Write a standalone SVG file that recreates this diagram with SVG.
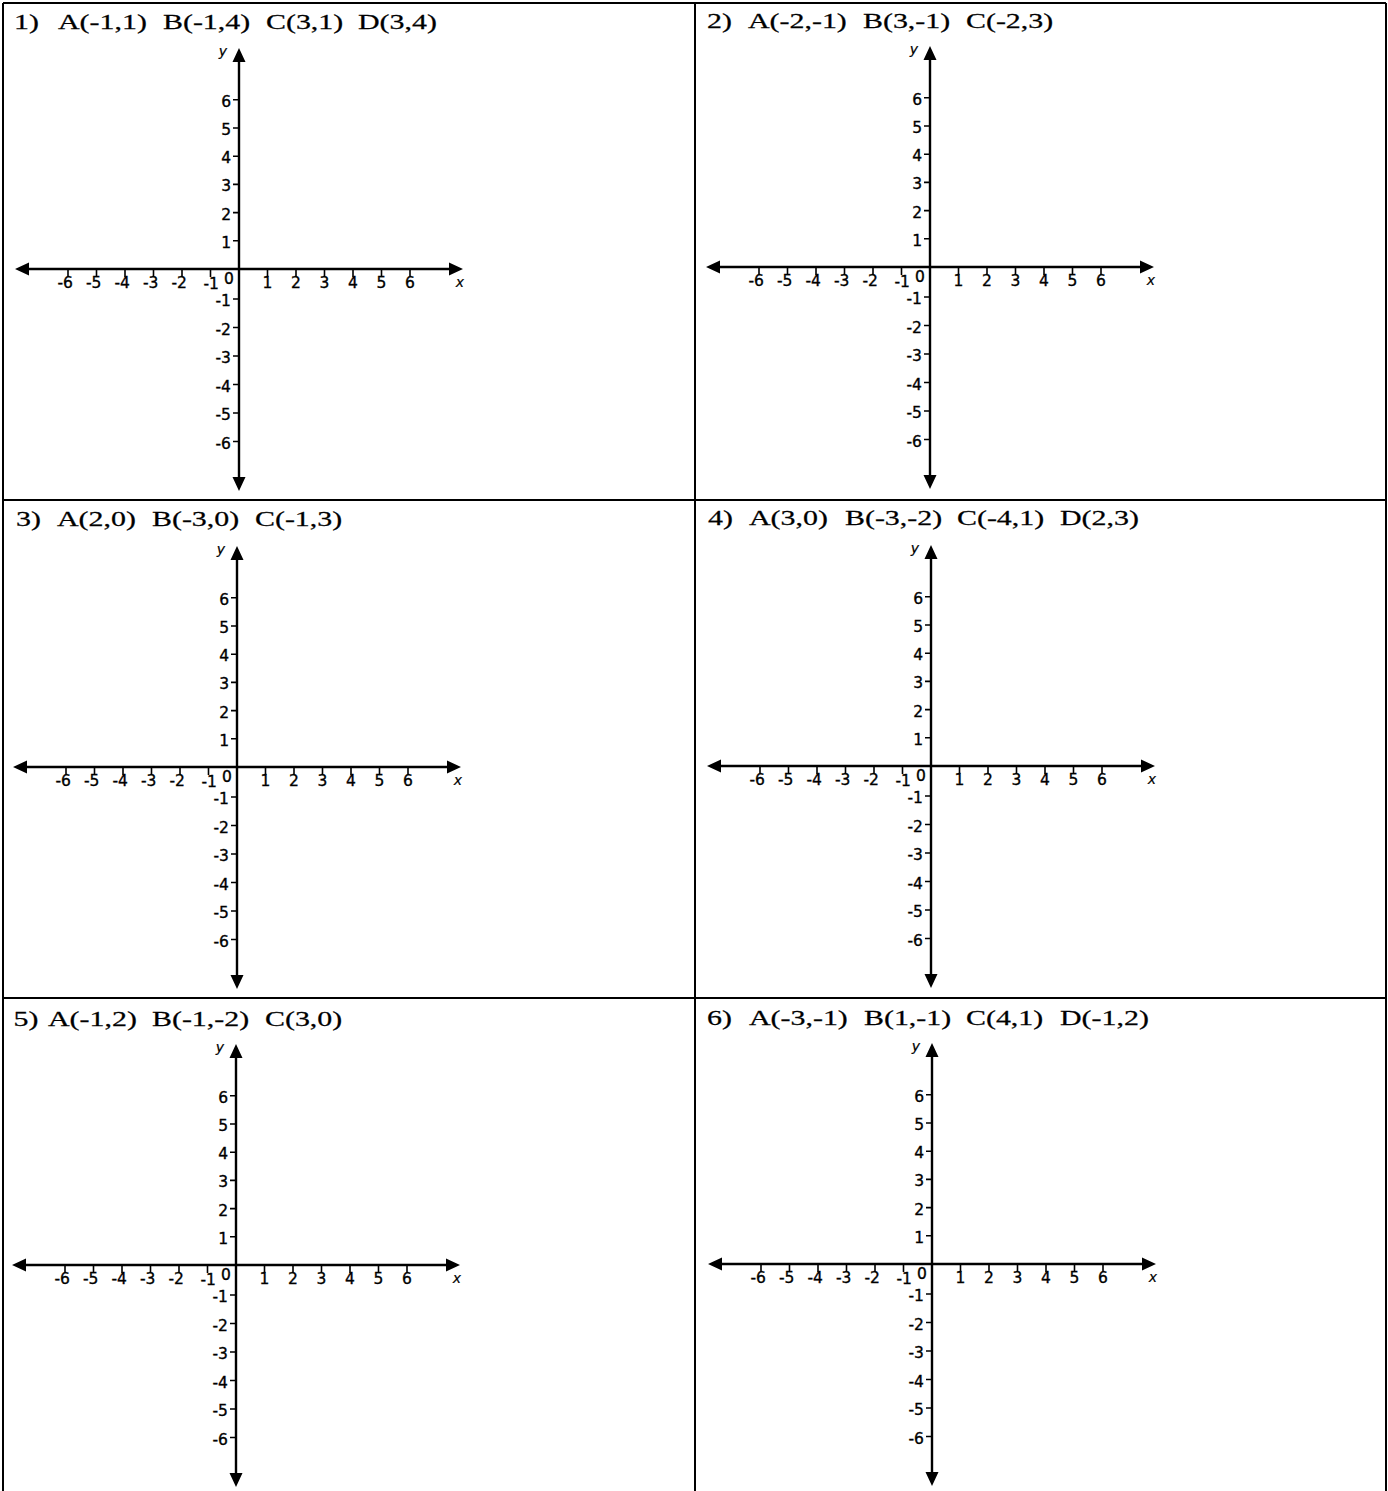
<svg xmlns="http://www.w3.org/2000/svg" width="1388" height="1491" viewBox="0 0 1388 1491">
<style>
.bg{fill:#fff}
.grid{stroke:#000;stroke-width:2;fill:none}
.ax{stroke:#000;stroke-width:2.4;fill:none}
.tk{stroke:#000;stroke-width:1.6;fill:none}
.ah{fill:#000}
.lb{font-family:"DejaVu Sans",Verdana,sans-serif;font-size:15.5px;fill:#000;stroke:#000;stroke-width:0.35}
.m{text-anchor:middle}
.e{text-anchor:end}
.it{font-style:italic;font-size:14px;stroke-width:0.2}
.ttl{font-family:"Liberation Serif","Times New Roman",serif;font-size:22px;fill:#000;stroke:#000;stroke-width:0.25}
</style>
<rect class="bg" x="0" y="0" width="1388" height="1491"/>
<g id="table">
<path class="grid" d="M3 3H1386M3 500H1386M3 998H1386M3 3V1491M695 3V1491M1386 3V1491"/>
</g>
<g id="titles">
<text class="ttl" transform="translate(0,28.5) scale(1.36,1)"><tspan x="10.3" y="0">1)</tspan> <tspan x="42.65" y="0">A(-1,1)</tspan> <tspan x="119.85" y="0">B(-1,4)</tspan> <tspan x="195.59" y="0">C(3,1)</tspan> <tspan x="263.24" y="0">D(3,4)</tspan></text>
<text class="ttl" transform="translate(0,28) scale(1.36,1)"><tspan x="519.85" y="0">2)</tspan> <tspan x="550" y="0">A(-2,-1)</tspan> <tspan x="634.56" y="0">B(3,-1)</tspan> <tspan x="710.29" y="0">C(-2,3)</tspan></text>
<text class="ttl" transform="translate(0,526) scale(1.36,1)"><tspan x="11.76" y="0">3)</tspan> <tspan x="41.91" y="0">A(2,0)</tspan> <tspan x="111.76" y="0">B(-3,0)</tspan> <tspan x="187.5" y="0">C(-1,3)</tspan></text>
<text class="ttl" transform="translate(0,525) scale(1.36,1)"><tspan x="520.6" y="0">4)</tspan> <tspan x="550.74" y="0">A(3,0)</tspan> <tspan x="621.32" y="0">B(-3,-2)</tspan> <tspan x="703.68" y="0">C(-4,1)</tspan> <tspan x="779.41" y="0">D(2,3)</tspan></text>
<text class="ttl" transform="translate(0,1026) scale(1.36,1)"><tspan x="9.93" y="0">5)</tspan> <tspan x="35.29" y="0">A(-1,2)</tspan> <tspan x="111.76" y="0">B(-1,-2)</tspan> <tspan x="194.85" y="0">C(3,0)</tspan></text>
<text class="ttl" transform="translate(0,1025) scale(1.36,1)"><tspan x="519.85" y="0">6)</tspan> <tspan x="550.74" y="0">A(-3,-1)</tspan> <tspan x="635.29" y="0">B(1,-1)</tspan> <tspan x="710.29" y="0">C(4,1)</tspan> <tspan x="779.41" y="0">D(-1,2)</tspan></text>
</g>

<g id="panel1" transform="translate(239,269)">
<path class="ax" d="M-213 0H213M0 -209V210"/>
<path class="ah" d="M224 0L210 -6.5L210 6.5ZM-224 0L-210 -6.5L-210 6.5ZM0 -221L-6.5 -207L6.5 -207ZM0 222L-6.5 208L6.5 208Z"/>
<path class="tk" d="M-171 0v8M-142.5 0v8M-114 0v8M-85.5 0v8M-57 0v8M-28.5 0v8M28.5 0v8M57 0v8M85.5 0v8M114 0v8M142.5 0v8M171 0v8M0 -169.2h-6M0 -141h-6M0 -112.8h-6M0 -84.6h-6M0 -56.4h-6M0 -28.2h-6M0 30h-6M0 58.5h-6M0 87h-6M0 115.5h-6M0 144h-6M0 172.5h-6"/>
<text class="lb e" x="-166" y="19">-6</text><text class="lb e" x="-137.5" y="19">-5</text><text class="lb e" x="-109" y="19">-4</text><text class="lb e" x="-80.5" y="19">-3</text><text class="lb e" x="-52" y="19">-2</text><text class="lb e" x="-20" y="20">-1</text>
<text class="lb m" x="-10" y="15">0</text>
<text class="lb m" x="28.5" y="19">1</text><text class="lb m" x="57" y="19">2</text><text class="lb m" x="85.5" y="19">3</text><text class="lb m" x="114" y="19">4</text><text class="lb m" x="142.5" y="19">5</text><text class="lb m" x="171" y="19">6</text>
<text class="lb e" x="-8" y="-162.2">6</text><text class="lb e" x="-8" y="-134">5</text><text class="lb e" x="-8" y="-105.8">4</text><text class="lb e" x="-8" y="-77.6">3</text><text class="lb e" x="-8" y="-49.4">2</text><text class="lb e" x="-8" y="-21.2">1</text>
<text class="lb e" x="-8" y="37">-1</text><text class="lb e" x="-8" y="65.5">-2</text><text class="lb e" x="-8" y="94">-3</text><text class="lb e" x="-8" y="122.5">-4</text><text class="lb e" x="-8" y="151">-5</text><text class="lb e" x="-8" y="179.5">-6</text>
<text class="lb m it" x="-16" y="-213">y</text><text class="lb m it" x="221" y="18">x</text>
</g>

<g id="panel2" transform="translate(930,267)">
<path class="ax" d="M-213 0H213M0 -209V210"/>
<path class="ah" d="M224 0L210 -6.5L210 6.5ZM-224 0L-210 -6.5L-210 6.5ZM0 -221L-6.5 -207L6.5 -207ZM0 222L-6.5 208L6.5 208Z"/>
<path class="tk" d="M-171 0v8M-142.5 0v8M-114 0v8M-85.5 0v8M-57 0v8M-28.5 0v8M28.5 0v8M57 0v8M85.5 0v8M114 0v8M142.5 0v8M171 0v8M0 -169.2h-6M0 -141h-6M0 -112.8h-6M0 -84.6h-6M0 -56.4h-6M0 -28.2h-6M0 30h-6M0 58.5h-6M0 87h-6M0 115.5h-6M0 144h-6M0 172.5h-6"/>
<text class="lb e" x="-166" y="19">-6</text><text class="lb e" x="-137.5" y="19">-5</text><text class="lb e" x="-109" y="19">-4</text><text class="lb e" x="-80.5" y="19">-3</text><text class="lb e" x="-52" y="19">-2</text><text class="lb e" x="-20" y="20">-1</text>
<text class="lb m" x="-10" y="15">0</text>
<text class="lb m" x="28.5" y="19">1</text><text class="lb m" x="57" y="19">2</text><text class="lb m" x="85.5" y="19">3</text><text class="lb m" x="114" y="19">4</text><text class="lb m" x="142.5" y="19">5</text><text class="lb m" x="171" y="19">6</text>
<text class="lb e" x="-8" y="-162.2">6</text><text class="lb e" x="-8" y="-134">5</text><text class="lb e" x="-8" y="-105.8">4</text><text class="lb e" x="-8" y="-77.6">3</text><text class="lb e" x="-8" y="-49.4">2</text><text class="lb e" x="-8" y="-21.2">1</text>
<text class="lb e" x="-8" y="37">-1</text><text class="lb e" x="-8" y="65.5">-2</text><text class="lb e" x="-8" y="94">-3</text><text class="lb e" x="-8" y="122.5">-4</text><text class="lb e" x="-8" y="151">-5</text><text class="lb e" x="-8" y="179.5">-6</text>
<text class="lb m it" x="-16" y="-213">y</text><text class="lb m it" x="221" y="18">x</text>
</g>

<g id="panel3" transform="translate(237,767)">
<path class="ax" d="M-213 0H213M0 -209V210"/>
<path class="ah" d="M224 0L210 -6.5L210 6.5ZM-224 0L-210 -6.5L-210 6.5ZM0 -221L-6.5 -207L6.5 -207ZM0 222L-6.5 208L6.5 208Z"/>
<path class="tk" d="M-171 0v8M-142.5 0v8M-114 0v8M-85.5 0v8M-57 0v8M-28.5 0v8M28.5 0v8M57 0v8M85.5 0v8M114 0v8M142.5 0v8M171 0v8M0 -169.2h-6M0 -141h-6M0 -112.8h-6M0 -84.6h-6M0 -56.4h-6M0 -28.2h-6M0 30h-6M0 58.5h-6M0 87h-6M0 115.5h-6M0 144h-6M0 172.5h-6"/>
<text class="lb e" x="-166" y="19">-6</text><text class="lb e" x="-137.5" y="19">-5</text><text class="lb e" x="-109" y="19">-4</text><text class="lb e" x="-80.5" y="19">-3</text><text class="lb e" x="-52" y="19">-2</text><text class="lb e" x="-20" y="20">-1</text>
<text class="lb m" x="-10" y="15">0</text>
<text class="lb m" x="28.5" y="19">1</text><text class="lb m" x="57" y="19">2</text><text class="lb m" x="85.5" y="19">3</text><text class="lb m" x="114" y="19">4</text><text class="lb m" x="142.5" y="19">5</text><text class="lb m" x="171" y="19">6</text>
<text class="lb e" x="-8" y="-162.2">6</text><text class="lb e" x="-8" y="-134">5</text><text class="lb e" x="-8" y="-105.8">4</text><text class="lb e" x="-8" y="-77.6">3</text><text class="lb e" x="-8" y="-49.4">2</text><text class="lb e" x="-8" y="-21.2">1</text>
<text class="lb e" x="-8" y="37">-1</text><text class="lb e" x="-8" y="65.5">-2</text><text class="lb e" x="-8" y="94">-3</text><text class="lb e" x="-8" y="122.5">-4</text><text class="lb e" x="-8" y="151">-5</text><text class="lb e" x="-8" y="179.5">-6</text>
<text class="lb m it" x="-16" y="-213">y</text><text class="lb m it" x="221" y="18">x</text>
</g>

<g id="panel4" transform="translate(931,766)">
<path class="ax" d="M-213 0H213M0 -209V210"/>
<path class="ah" d="M224 0L210 -6.5L210 6.5ZM-224 0L-210 -6.5L-210 6.5ZM0 -221L-6.5 -207L6.5 -207ZM0 222L-6.5 208L6.5 208Z"/>
<path class="tk" d="M-171 0v8M-142.5 0v8M-114 0v8M-85.5 0v8M-57 0v8M-28.5 0v8M28.5 0v8M57 0v8M85.5 0v8M114 0v8M142.5 0v8M171 0v8M0 -169.2h-6M0 -141h-6M0 -112.8h-6M0 -84.6h-6M0 -56.4h-6M0 -28.2h-6M0 30h-6M0 58.5h-6M0 87h-6M0 115.5h-6M0 144h-6M0 172.5h-6"/>
<text class="lb e" x="-166" y="19">-6</text><text class="lb e" x="-137.5" y="19">-5</text><text class="lb e" x="-109" y="19">-4</text><text class="lb e" x="-80.5" y="19">-3</text><text class="lb e" x="-52" y="19">-2</text><text class="lb e" x="-20" y="20">-1</text>
<text class="lb m" x="-10" y="15">0</text>
<text class="lb m" x="28.5" y="19">1</text><text class="lb m" x="57" y="19">2</text><text class="lb m" x="85.5" y="19">3</text><text class="lb m" x="114" y="19">4</text><text class="lb m" x="142.5" y="19">5</text><text class="lb m" x="171" y="19">6</text>
<text class="lb e" x="-8" y="-162.2">6</text><text class="lb e" x="-8" y="-134">5</text><text class="lb e" x="-8" y="-105.8">4</text><text class="lb e" x="-8" y="-77.6">3</text><text class="lb e" x="-8" y="-49.4">2</text><text class="lb e" x="-8" y="-21.2">1</text>
<text class="lb e" x="-8" y="37">-1</text><text class="lb e" x="-8" y="65.5">-2</text><text class="lb e" x="-8" y="94">-3</text><text class="lb e" x="-8" y="122.5">-4</text><text class="lb e" x="-8" y="151">-5</text><text class="lb e" x="-8" y="179.5">-6</text>
<text class="lb m it" x="-16" y="-213">y</text><text class="lb m it" x="221" y="18">x</text>
</g>

<g id="panel5" transform="translate(236,1265)">
<path class="ax" d="M-213 0H213M0 -209V210"/>
<path class="ah" d="M224 0L210 -6.5L210 6.5ZM-224 0L-210 -6.5L-210 6.5ZM0 -221L-6.5 -207L6.5 -207ZM0 222L-6.5 208L6.5 208Z"/>
<path class="tk" d="M-171 0v8M-142.5 0v8M-114 0v8M-85.5 0v8M-57 0v8M-28.5 0v8M28.5 0v8M57 0v8M85.5 0v8M114 0v8M142.5 0v8M171 0v8M0 -169.2h-6M0 -141h-6M0 -112.8h-6M0 -84.6h-6M0 -56.4h-6M0 -28.2h-6M0 30h-6M0 58.5h-6M0 87h-6M0 115.5h-6M0 144h-6M0 172.5h-6"/>
<text class="lb e" x="-166" y="19">-6</text><text class="lb e" x="-137.5" y="19">-5</text><text class="lb e" x="-109" y="19">-4</text><text class="lb e" x="-80.5" y="19">-3</text><text class="lb e" x="-52" y="19">-2</text><text class="lb e" x="-20" y="20">-1</text>
<text class="lb m" x="-10" y="15">0</text>
<text class="lb m" x="28.5" y="19">1</text><text class="lb m" x="57" y="19">2</text><text class="lb m" x="85.5" y="19">3</text><text class="lb m" x="114" y="19">4</text><text class="lb m" x="142.5" y="19">5</text><text class="lb m" x="171" y="19">6</text>
<text class="lb e" x="-8" y="-162.2">6</text><text class="lb e" x="-8" y="-134">5</text><text class="lb e" x="-8" y="-105.8">4</text><text class="lb e" x="-8" y="-77.6">3</text><text class="lb e" x="-8" y="-49.4">2</text><text class="lb e" x="-8" y="-21.2">1</text>
<text class="lb e" x="-8" y="37">-1</text><text class="lb e" x="-8" y="65.5">-2</text><text class="lb e" x="-8" y="94">-3</text><text class="lb e" x="-8" y="122.5">-4</text><text class="lb e" x="-8" y="151">-5</text><text class="lb e" x="-8" y="179.5">-6</text>
<text class="lb m it" x="-16" y="-213">y</text><text class="lb m it" x="221" y="18">x</text>
</g>

<g id="panel6" transform="translate(932,1264)">
<path class="ax" d="M-213 0H213M0 -209V210"/>
<path class="ah" d="M224 0L210 -6.5L210 6.5ZM-224 0L-210 -6.5L-210 6.5ZM0 -221L-6.5 -207L6.5 -207ZM0 222L-6.5 208L6.5 208Z"/>
<path class="tk" d="M-171 0v8M-142.5 0v8M-114 0v8M-85.5 0v8M-57 0v8M-28.5 0v8M28.5 0v8M57 0v8M85.5 0v8M114 0v8M142.5 0v8M171 0v8M0 -169.2h-6M0 -141h-6M0 -112.8h-6M0 -84.6h-6M0 -56.4h-6M0 -28.2h-6M0 30h-6M0 58.5h-6M0 87h-6M0 115.5h-6M0 144h-6M0 172.5h-6"/>
<text class="lb e" x="-166" y="19">-6</text><text class="lb e" x="-137.5" y="19">-5</text><text class="lb e" x="-109" y="19">-4</text><text class="lb e" x="-80.5" y="19">-3</text><text class="lb e" x="-52" y="19">-2</text><text class="lb e" x="-20" y="20">-1</text>
<text class="lb m" x="-10" y="15">0</text>
<text class="lb m" x="28.5" y="19">1</text><text class="lb m" x="57" y="19">2</text><text class="lb m" x="85.5" y="19">3</text><text class="lb m" x="114" y="19">4</text><text class="lb m" x="142.5" y="19">5</text><text class="lb m" x="171" y="19">6</text>
<text class="lb e" x="-8" y="-162.2">6</text><text class="lb e" x="-8" y="-134">5</text><text class="lb e" x="-8" y="-105.8">4</text><text class="lb e" x="-8" y="-77.6">3</text><text class="lb e" x="-8" y="-49.4">2</text><text class="lb e" x="-8" y="-21.2">1</text>
<text class="lb e" x="-8" y="37">-1</text><text class="lb e" x="-8" y="65.5">-2</text><text class="lb e" x="-8" y="94">-3</text><text class="lb e" x="-8" y="122.5">-4</text><text class="lb e" x="-8" y="151">-5</text><text class="lb e" x="-8" y="179.5">-6</text>
<text class="lb m it" x="-16" y="-213">y</text><text class="lb m it" x="221" y="18">x</text>
</g>
</svg>
